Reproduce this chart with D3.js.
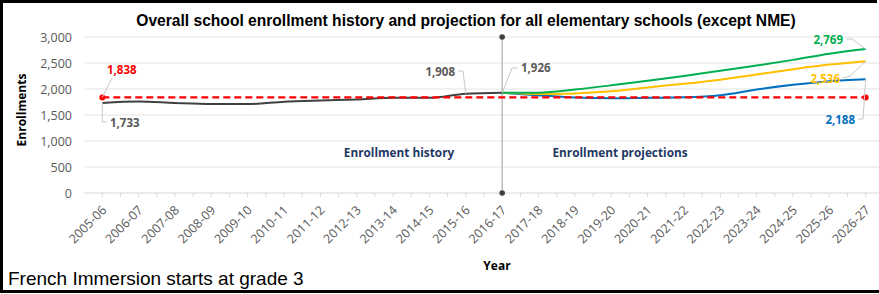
<!DOCTYPE html>
<html>
<head>
<meta charset="utf-8">
<script src="https://cdn.jsdelivr.net/npm/d3@7"></script>
<style>
  body { margin: 0; background: #fff; }
  svg { display: block; font-family: "Liberation Sans", Arial, sans-serif; }
</style>
</head>
<body>
<div id="chart"></div>
<script>
// school years on the x axis
var years = ["2005-06", "2006-07", "2007-08", "2008-09", "2009-10", "2010-11", "2011-12",
  "2012-13", "2013-14", "2014-15", "2015-16", "2016-17", "2017-18", "2018-19", "2019-20",
  "2020-21", "2021-22", "2022-23", "2023-24", "2024-25", "2025-26", "2026-27"];

// enrollment history 2005-06 .. 2016-17
var enrolHistory = [1733, 1760, 1730, 1710, 1710, 1755, 1780, 1800, 1830, 1830, 1908, 1926];
// projections 2016-17 .. 2026-27
var projYears = years.slice(11);
var projHigh = [1926, 1930, 1990, 2070, 2160, 2250, 2350, 2450, 2560, 2680, 2769];
var projMid = [1926, 1905, 1915, 1955, 2030, 2100, 2180, 2280, 2380, 2470, 2536];
var projLow = [1926, 1880, 1835, 1820, 1830, 1840, 1880, 1990, 2080, 2150, 2188];
var reference = 1838;
var yTicks = [0, 500, 1000, 1500, 2000, 2500, 3000];

(function () {
var W = 879, H = 294;
var svg = d3.select("#chart").append("svg")
  .attr("width", W)
  .attr("height", H);

var x = d3.scalePoint()
  .domain(years)
  .range([102.3, 865.7]);
var step = x.step();

var y = d3.scaleLinear()
  .domain([0, 3000])
  .range([193, 37]);

// gridlines
svg.append("g")
  .selectAll("line")
  .data(yTicks.slice(1))
  .join("line")
  .attr("x1", 84)
  .attr("x2", 879)
  .attr("y1", function (d) { return y(d); })
  .attr("y2", function (d) { return y(d); })
  .attr("stroke", "#e4e4e4")
  .attr("stroke-width", 1);

// y axis (labels only)
var yAxis = svg.append("g")
  .attr("transform", "translate(84,0)")
  .call(d3.axisLeft(y).tickValues(yTicks).tickSize(0).tickPadding(12).tickFormat(d3.format(",")));
yAxis.select(".domain").remove();
yAxis.selectAll("text")
  .attr("fill", "#595959")
  .style("font-family", "'Open Sans', sans-serif")
  .style("font-size", "12.5px");

// x axis baseline
svg.append("line")
  .attr("x1", 84).attr("x2", 879)
  .attr("y1", y(0)).attr("y2", y(0))
  .attr("stroke", "#d9d9d9");

// half-step tick marks
var tickPos = [];
years.forEach(function (d) {
  tickPos.push(x(d));
  tickPos.push(x(d) + step / 2);
});
svg.append("g")
  .selectAll("line")
  .data(tickPos)
  .join("line")
  .attr("x1", function (d) { return d; })
  .attr("x2", function (d) { return d; })
  .attr("y1", y(0))
  .attr("y2", y(0) + 4)
  .attr("stroke", "#d9d9d9");

// x tick labels
svg.append("g")
  .selectAll("text")
  .data(years)
  .join("text")
  .attr("transform", function (d) { return "translate(" + (x(d) + 5) + "," + (y(0) + 18) + ") rotate(-45)"; })
  .attr("text-anchor", "end")
  .attr("fill", "#595959")
  .style("font-family", "'Open Sans', sans-serif")
  .style("font-size", "12.5px")
  .text(function (d) { return d; });

// vertical divider at 2016-17
var xDiv = x("2016-17");
svg.append("line")
  .attr("x1", xDiv).attr("x2", xDiv)
  .attr("y1", y(3000)).attr("y2", y(0))
  .attr("stroke", "#bfbfbf")
  .attr("stroke-width", 1.5);
svg.append("g")
  .selectAll("circle")
  .data([3000, 0])
  .join("circle")
  .attr("cx", xDiv)
  .attr("cy", function (d) { return y(d); })
  .attr("r", 2.8)
  .attr("fill", "#404040");

var line = d3.line()
  .x(function (d) { return x(d[0]); })
  .y(function (d) { return y(d[1]); })
  .curve(d3.curveMonotoneX);

function pairs(cats, vals) {
  return cats.map(function (c, i) { return [c, vals[i]]; });
}

// projection lines
[[projLow, "#0070c0"], [projMid, "#ffc000"], [projHigh, "#00b050"]].forEach(function (s) {
  svg.append("path")
    .datum(pairs(projYears, s[0]))
    .attr("fill", "none")
    .attr("stroke", s[1])
    .attr("stroke-width", 2)
    .attr("d", line);
});

// history line
svg.append("path")
  .datum(pairs(years.slice(0, 12), enrolHistory))
  .attr("fill", "none")
  .attr("stroke", "#404040")
  .attr("stroke-width", 2)
  .attr("d", line);

// reference dashed line
svg.append("line")
  .attr("x1", x(years[0])).attr("x2", x(years[years.length - 1]))
  .attr("y1", y(reference)).attr("y2", y(reference))
  .attr("stroke", "#ff0000")
  .attr("stroke-width", 2.2)
  .attr("stroke-dasharray", "7,4");
svg.append("g")
  .selectAll("circle")
  .data([years[0], years[years.length - 1]])
  .join("circle")
  .attr("cx", function (d) { return x(d); })
  .attr("cy", y(reference))
  .attr("r", 3)
  .attr("fill", "#ff0000");

// data labels with leader lines
var labels = [
  { text: "1,838", color: "#ff0000", tx: 107, ty: 74, anchor: "start",
    leader: [[112, 78], [x(years[0]), y(reference)]] },
  { text: "1,733", color: "#595959", tx: 110, ty: 127, anchor: "start",
    leader: [[x(years[0]), y(enrolHistory[0])], [x(years[0]), 122], [107, 122]] },
  { text: "1,908", color: "#595959", tx: 455, ty: 76, anchor: "end",
    leader: [[458, 71], [463, 71], [x("2015-16"), y(1908)]] },
  { text: "1,926", color: "#595959", tx: 521, ty: 72, anchor: "start",
    leader: [[518, 68], [512, 68], [xDiv, y(1926)]] },
  { text: "2,769", color: "#00b050", tx: 843, ty: 44, anchor: "end",
    leader: [[846, 39], [852, 39], [x("2026-27"), y(2769)]] },
  { text: "2,536", color: "#ffc000", tx: 840, ty: 83, anchor: "end",
    leader: [[843, 78], [850, 76], [x("2026-27"), y(2536)]] },
  { text: "2,188", color: "#0070c0", tx: 855, ty: 124, anchor: "end",
    leader: [[858, 119], [863, 119], [x("2026-27"), y(2188)]] }
];
labels.forEach(function (l) {
  svg.append("path")
    .attr("d", d3.line()(l.leader))
    .attr("fill", "none")
    .attr("stroke", "#c8c8c8")
    .attr("stroke-width", 1);
  svg.append("text")
    .attr("x", l.tx)
    .attr("y", l.ty)
    .attr("text-anchor", l.anchor)
    .attr("fill", l.color)
    .style("font-family", "'Open Sans', sans-serif")
    .style("font-weight", "bold")
    .style("font-size", "11.5px")
    .text(l.text);
});

// section labels
[["Enrollment history", 399], ["Enrollment projections", 620]].forEach(function (s) {
  svg.append("text")
    .attr("x", s[1]).attr("y", 157)
    .attr("text-anchor", "middle")
    .attr("fill", "#1f3864")
    .style("font-family", "'Open Sans', sans-serif")
    .style("font-weight", "bold")
    .style("font-size", "11.8px")
    .text(s[0]);
});

// title
svg.append("text")
  .attr("x", 466).attr("y", 26)
  .attr("text-anchor", "middle")
  .style("font-weight", "bold")
  .style("font-size", "15.6px")
  .text("Overall school enrollment history and projection for all elementary schools (except NME)");

// axis titles
svg.append("text")
  .attr("transform", "translate(26,110) rotate(-90)")
  .attr("text-anchor", "middle")
  .style("font-family", "'Open Sans', sans-serif")
  .style("font-weight", "bold")
  .style("font-size", "12px")
  .text("Enrollments");
svg.append("text")
  .attr("x", 497).attr("y", 270)
  .attr("text-anchor", "middle")
  .style("font-family", "'Open Sans', sans-serif")
  .style("font-weight", "bold")
  .style("font-size", "12px")
  .text("Year");

// footnote
svg.append("text")
  .attr("x", 8).attr("y", 285)
  .style("font-size", "19px")
  .text("French Immersion starts at grade 3");

// frame
svg.append("path")
  .attr("d", "M877,1.5 H1.5 V291.5 H879")
  .attr("fill", "none")
  .attr("stroke", "#000")
  .attr("stroke-width", 3);
})();
</script>
</body>
</html>
